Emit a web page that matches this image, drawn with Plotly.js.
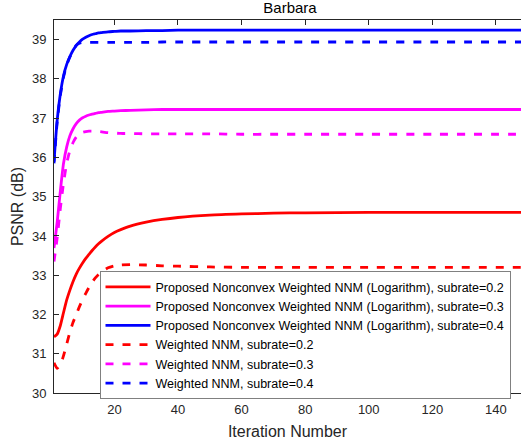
<!DOCTYPE html>
<html>
<head>
<meta charset="utf-8">
<script src="https://cdn.plot.ly/plotly-3.0.1.min.js"></script>
<style>html,body{margin:0;padding:0;background:#fff;}#chart{width:521px;height:445px;}</style>
</head>
<body>
<div id="chart"></div>
<script>
const iters = [1,2,3,4,5,6,7,8,9,10,11,12,13,14,15,16,18,20,22,25,30,35,40,50,60,70,80,100,120,150];

// Proposed Nonconvex Weighted NNM (Logarithm)
const prop02 = [31.43,31.50,31.72,32.05,32.37,32.62,32.84,33.03,33.18,33.31,33.43,33.53,33.63,33.72,33.80,33.87,33.99,34.09,34.16,34.25,34.35,34.42,34.47,34.53,34.56,34.58,34.59,34.60,34.60,34.60];
const prop03 = [33.69,34.35,35.15,35.85,36.27,36.55,36.73,36.86,36.95,37.01,37.05,37.08,37.10,37.12,37.14,37.15,37.17,37.18,37.19,37.20,37.21,37.22,37.22,37.22,37.22,37.22,37.22,37.22,37.22,37.22];
const prop04 = [35.89,36.95,37.62,38.08,38.37,38.57,38.73,38.85,38.94,39.01,39.06,39.10,39.13,39.15,39.17,39.18,39.20,39.21,39.22,39.22,39.23,39.23,39.24,39.24,39.24,39.24,39.24,39.24,39.24,39.24];

// Weighted NNM
const wnnm02 = [30.77,30.63,30.72,30.95,31.25,31.55,31.80,32.00,32.20,32.38,32.54,32.69,32.82,32.93,33.02,33.09,33.19,33.24,33.26,33.27,33.26,33.24,33.23,33.21,33.20,33.20,33.20,33.20,33.20,33.20];
const wnnm03 = [33.35,33.95,34.70,35.35,35.85,36.18,36.38,36.52,36.60,36.64,36.66,36.67,36.67,36.67,36.66,36.65,36.63,36.62,36.61,36.61,36.60,36.60,36.60,36.60,36.59,36.59,36.59,36.59,36.59,36.59];
const wnnm04 = [35.85,36.90,37.58,38.05,38.35,38.56,38.72,38.86,38.91,38.93,38.93,38.93,38.93,38.93,38.93,38.93,38.93,38.93,38.93,38.93,38.93,38.94,38.94,38.94,38.94,38.94,38.94,38.94,38.94,38.94];

const names = [
  'Proposed Nonconvex Weighted NNM (Logarithm), subrate=0.2',
  'Proposed Nonconvex Weighted NNM (Logarithm), subrate=0.3',
  'Proposed Nonconvex Weighted NNM (Logarithm), subrate=0.4',
  'Weighted NNM, subrate=0.2',
  'Weighted NNM, subrate=0.3',
  'Weighted NNM, subrate=0.4'
];
const series = [prop02, prop03, prop04, wnnm02, wnnm03, wnnm04];
const colors = ['#ff0000','#ff00ff','#0000ff','#ff0000','#ff00ff','#0000ff'];
const dashes = ['solid','solid','solid','8px,9px','8px,9px','8px,9px'];

const xTicks = [20,40,60,80,100,120,140];
const yTicks = [30,31,32,33,34,35,36,37,38,39];

const traces = series.map((s, i) => ({
  x: iters, y: s, name: names[i], type: 'scatter', mode: 'lines',
  line: {color: colors[i], width: 2.8, dash: dashes[i], shape: 'spline', smoothing: 0.6}
}));

const font = {family: 'Liberation Sans, Arial, sans-serif', color: '#262626'};
const layout = {
  width: 521, height: 445,
  margin: {l: 54, r: 0, t: 19.5, b: 52, pad: 0},
  paper_bgcolor: '#ffffff', plot_bgcolor: '#ffffff',
  font: Object.assign({size: 13}, font),
  title: {text: 'Barbara', font: Object.assign({size: 15}, font, {color: '#000'}), xref: 'container', x: 290/521, xanchor: 'center', yref: 'container', y: 1 - 2/445, yanchor: 'top', pad: {t: 0, b: 0}},
  showlegend: true,
  legend: {x: (99.5-54)/467, y: (393-271)/373.5, xanchor: 'left', yanchor: 'top',
    bgcolor: '#ffffff', bordercolor: '#808080', borderwidth: 1,
    font: Object.assign({size: 12.5}, font, {color: '#000'}), itemwidth: 45, tracegroupgap: 0},
  xaxis: {
    range: [1, 147.9], tickvals: xTicks, ticktext: xTicks.map(String),
    ticks: 'inside', ticklen: 5, tickwidth: 1, tickcolor: '#262626',
    showline: true, linecolor: '#262626', linewidth: 1, mirror: 'ticks',
    showgrid: false, zeroline: false, ticklabelstandoff: 4,
    tickfont: Object.assign({size: 13}, font),
    title: {text: 'Iteration Number', font: Object.assign({size: 16}, font), standoff: 10}
  },
  yaxis: {
    range: [30, 39.5], tickvals: yTicks, ticktext: yTicks.map(String),
    ticks: 'inside', ticklen: 5, tickwidth: 1, tickcolor: '#262626',
    showline: true, linecolor: '#262626', linewidth: 1, mirror: false,
    showgrid: false, zeroline: false, ticklabelstandoff: 4,
    tickfont: Object.assign({size: 13}, font),
    title: {text: 'PSNR (dB)', font: Object.assign({size: 16}, font), standoff: 4}
  }
};

Plotly.newPlot('chart', traces, layout, {displayModeBar: false, staticPlot: true});
</script>
</body>
</html>
